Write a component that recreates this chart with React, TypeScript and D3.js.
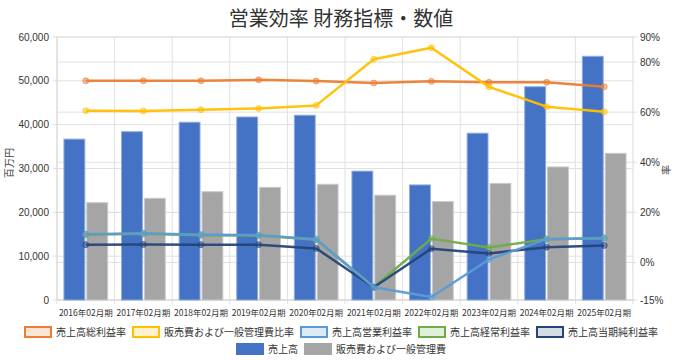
import React from "react";
import * as d3 from "d3";

const categories = ["2016年02月期","2017年02月期","2018年02月期","2019年02月期","2020年02月期","2021年02月期","2022年02月期","2023年02月期","2024年02月期","2025年02月期"];
const sales = [36700, 38400, 40550, 41750, 42150, 29400, 26250, 38050, 48650, 55600];
const sga = [22200, 23200, 24700, 25700, 26400, 23900, 22450, 26600, 30350, 33450];
const grossMargin = [72.5, 72.5, 72.5, 72.9, 72.4, 71.6, 72.3, 71.9, 71.9, 70.1];
const sgaRatio = [60.6, 60.5, 61.0, 61.5, 62.7, 81.1, 85.7, 70.1, 62.2, 60.2];
const opMargin = [11.3, 11.6, 11.1, 10.9, 9.3, -9.9, -13.8, 1.2, 9.3, 9.7];
const ordMargin = [11.1, 11.4, 10.9, 10.7, 9.1, -9.8, 9.5, 6.0, 9.3, 9.8];
const netMargin = [7.1, 7.2, 7.1, 7.1, 5.6, -9.9, 5.5, 3.6, 6.1, 6.8];
const leftTicks = [0, 10000, 20000, 30000, 40000, 50000, 60000];
const rightTicks = [-15, 0, 20, 40, 60, 80, 90];

const lineSeries = [
  { name: "売上高総利益率", values: grossMargin, color: "#ED7D31", fill: "#FBE5D6" },
  { name: "販売費および一般管理費比率", values: sgaRatio, color: "#FFC000", fill: "#FFF2CC" },
  { name: "売上高営業利益率", values: opMargin, color: "#5B9BD5", fill: "#DEEBF7" },
  { name: "売上高経常利益率", values: ordMargin, color: "#70AD47", fill: "#E2F0D9" },
  { name: "売上高当期純利益率", values: netMargin, color: "#264478", fill: "#D6DCE5" },
];
const drawOrder = [0, 1, 3, 4, 2];
const barSeries = [
  { name: "売上高", values: sales, color: "#4472C4", stroke: "#8FAADC" },
  { name: "販売費および一般管理費", values: sga, color: "#A5A5A5", stroke: "#C9C9C9" },
];

const JP = "'Noto Sans CJK JP', 'Liberation Sans', sans-serif";
const NUM = "'Liberation Sans', Arial, sans-serif";

export default function App() {
  const W = 682, H = 360;
  const left = 57, right = 633, top = 37, bottom = 300;
  const x = d3.scaleBand<string>().domain(categories).range([left, right]);
  const x1 = d3.scaleBand<string>().domain(["a", "b"]).range([0, x.bandwidth()]).paddingInner(0.087).paddingOuter(0.304);
  const yL = d3.scaleLinear().domain([0, 60000]).range([bottom, top]);
  const yR = d3.scaleLinear().domain([-15, 90]).range([bottom, top]);
  const fmt = d3.format(",");
  const line = d3.line<number>().x((_, i) => (x(categories[i]) as number) + x.bandwidth() / 2).y((d) => yR(d));

  const charW = 10;
  const row1 = lineSeries.map((s) => ({ ...s, w: 28 + 4 + s.name.length * charW }));
  const gap = 6;
  const row1W = row1.reduce((a, b) => a + b.w, 0) + gap * (row1.length - 1);
  let cx1 = W / 2 - row1W / 2;
  const row1Pos = row1.map((s) => { const p = cx1; cx1 += s.w + gap; return p; });
  const row2 = barSeries.map((s) => ({ ...s, w: 28 + 4 + s.name.length * charW }));
  const row2W = row2.reduce((a, b) => a + b.w, 0) + gap * (row2.length - 1);
  let cx2 = W / 2 - row2W / 2;
  const row2Pos = row2.map((s) => { const p = cx2; cx2 += s.w + gap; return p; });

  return (
    <svg width={W} height={H} style={{ position: "absolute", left: 0, top: 0, background: "#fff" }}>
      <rect x={0} y={0} width={W} height={H} fill="#fff" />
      <text x={W / 2} y={26} textAnchor="middle" fontFamily={JP} fontSize={20} fill="#333">営業効率 財務指標・数値</text>
      {leftTicks.map((t) => (
        <line key={"gl" + t} x1={left - 4} x2={right} y1={yL(t)} y2={yL(t)} stroke="#e0e0e0" />
      ))}
      {rightTicks.map((t) => (
        <line key={"gr" + t} x1={left} x2={right + 4} y1={yR(t)} y2={yR(t)} stroke="#e0e0e0" />
      ))}
      {categories.map((c) => (
        <line key={"v" + c} x1={x(c)} x2={x(c)} y1={top} y2={bottom + 4} stroke="#e0e0e0" />
      ))}
      <line x1={right} x2={right} y1={top} y2={bottom + 4} stroke="#d9d9d9" />
      <line x1={left} x2={left} y1={top} y2={bottom} stroke="#d9d9d9" />
      <line x1={left} x2={right} y1={bottom} y2={bottom} stroke="#d9d9d9" />
      {leftTicks.map((t) => (
        <text key={"lt" + t} x={49} y={yL(t) + 3.5} textAnchor="end" fontFamily={NUM} fontSize={10} fill="#333">{fmt(t)}</text>
      ))}
      {rightTicks.map((t) => (
        <text key={"rt" + t} x={640} y={yR(t) + 3.5} textAnchor="start" fontFamily={NUM} fontSize={10} fill="#333">{t + "%"}</text>
      ))}
      <text transform={`translate(13,163) rotate(-90)`} textAnchor="middle" fontFamily={JP} fontSize={10} fill="#444">百万円</text>
      <text transform={`translate(670,170) rotate(-90)`} textAnchor="middle" fontFamily={JP} fontSize={10} fill="#444">率</text>
      {categories.map((c) => (
        <text key={"xl" + c} x={(x(c) as number) + x.bandwidth() / 2} y={316} textAnchor="middle" fontFamily={JP} fontSize={8.5} fill="#333">{c}</text>
      ))}
      {barSeries.map((s, si) =>
        s.values.map((v, i) => (
          <rect key={s.name + i} x={(x(categories[i]) as number) + (x1(si === 0 ? "a" : "b") as number)} y={yL(v)} width={x1.bandwidth()} height={bottom - yL(v)} fill={s.color} stroke={s.stroke} strokeWidth={1} />
        ))
      )}
      {drawOrder.map((k) => {
        const s = lineSeries[k];
        return (
          <g key={s.name}>
            <path d={line(s.values) as string} fill="none" stroke={s.color} strokeWidth={2.5} strokeLinejoin="round" opacity={0.95} />
            {s.values.map((v, i) => (
              <circle key={i} cx={(x(categories[i]) as number) + x.bandwidth() / 2} cy={yR(v)} r={3} fill={s.color} fillOpacity={0.5} stroke={s.color} strokeOpacity={0.6} strokeWidth={1} />
            ))}
          </g>
        );
      })}
      {row1.map((s, i) => (
        <g key={"lg1" + i} transform={`translate(${row1Pos[i]},332)`}>
          <rect x={1} y={-5} width={26} height={10} fill={s.fill} stroke={s.color} strokeWidth={2} />
          <text x={32} y={4} fontFamily={JP} fontSize={10} fill="#333">{s.name}</text>
        </g>
      ))}
      {row2.map((s, i) => (
        <g key={"lg2" + i} transform={`translate(${row2Pos[i]},349)`}>
          <rect x={0} y={-6} width={28} height={12} fill={s.color} />
          <text x={32} y={4} fontFamily={JP} fontSize={10} fill="#333">{s.name}</text>
        </g>
      ))}
    </svg>
  );
}
